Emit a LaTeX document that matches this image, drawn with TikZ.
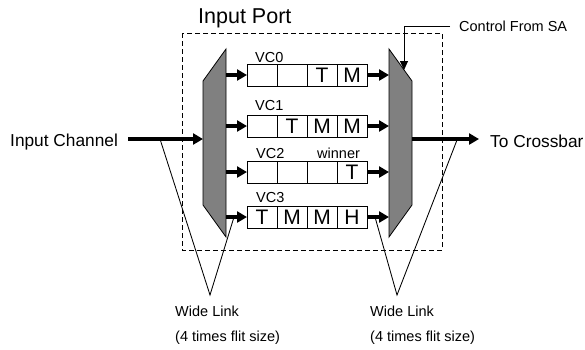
\documentclass[tikz,border=0pt]{standalone}
\usepackage{fontspec}
\setmainfont{Liberation Sans}
\usetikzlibrary{arrows.meta,positioning}

\tikzset{
  cell/.style={draw, line width=0.8pt, minimum width=30pt, minimum height=22pt,
    inner sep=0pt, outer sep=0pt, font=\fontsize{21}{21}\selectfont},
  lbl/.style={inner sep=0pt, anchor=base west, font=\fontsize{14.5}{14.5}\selectfont},
  biglbl/.style={inner sep=0pt, anchor=base west, font=\fontsize{17.3}{17.3}\selectfont},
  flit/.style={line width=3.3pt, -{Triangle[length=10pt,width=11pt]}},
  switchbox/.style={draw, line width=0.8pt, fill=black!50},
  thinline/.style={line width=0.85pt},
}

\begin{document}
\begin{tikzpicture}[x=1pt, y=-1pt]
\useasboundingbox (0,0) rectangle (585,349);

% input port boundary
\draw[thinline, dash pattern=on 5pt off 3pt] (182,33) rectangle (442,250);
\node[inner sep=0pt, anchor=base west, font=\fontsize{21.5}{21.5}\selectfont] (port) at (198,23) {Input Port};

% demux and mux
\coordinate (dml) at (203,0);
\coordinate (dmr) at (226,0);
\coordinate (mxl) at (389,0);
\coordinate (mxr) at (412,0);
\draw[switchbox] (203,81) -- (226,49) -- (226,237) -- (203,205) -- cycle;
\draw[switchbox] (389,49) -- (412,81) -- (412,205) -- (389,237) -- cycle;

% virtual channel buffers
\node[cell] (a1) at (262,75) {};
\node[cell, right=0pt of a1] (a2) {};
\node[cell, right=0pt of a2] (a3) {T};
\node[cell, right=0pt of a3] (a4) {M};
\node[lbl] (vc0) at (255,62) {VC0};

\node[cell] (b1) at (262,126) {};
\node[cell, right=0pt of b1] (b2) {T};
\node[cell, right=0pt of b2] (b3) {M};
\node[cell, right=0pt of b3] (b4) {M};
\node[lbl] (vc1) at (255,110) {VC1};

\node[cell] (c1) at (262,172) {};
\node[cell, right=0pt of c1] (c2) {};
\node[cell, right=0pt of c2] (c3) {};
\node[cell, right=0pt of c3] (c4) {T};
\node[lbl] (vc2) at (256,158) {VC2};
\node[lbl] (win) at (317,158) {winner};

\node[cell] (d1) at (262,217) {T};
\node[cell, right=0pt of d1] (d2) {M};
\node[cell, right=0pt of d2] (d3) {M};
\node[cell, right=0pt of d3] (d4) {H};
\node[lbl] (vc3) at (256,202) {VC3};

% flit paths
\foreach \r in {a,b,c,d}{
  \draw[flit] (\r1.west -| dmr) -- (\r1.west);
  \draw[flit] (\r4.east) -- (\r4.east -| mxl);
}

% channels
\node[biglbl] (inch) at (10,146.5) {Input Channel};
\node[biglbl] (xbar) at (490,147) {To Crossbar};
\coordinate (inch0) at (128,139);
\coordinate (xbar0) at (479,139);
\draw[flit] (inch0) -- (inch0 -| dml);
\draw[flit] (inch0 -| mxr) -- (xbar0);

% switch allocator control
\node[lbl] (ctrl) at (459,31.5) {Control From SA};
\coordinate (sa) at (404,70);
\draw[thinline, -{Triangle[length=9pt,width=8pt]}] (450,26) -| (sa);

% wide links
\coordinate (wa) at (210,295);
\coordinate (wb) at (397,295);
\draw[thinline] (160,139) -- (wa) -- (234,217);
\draw[thinline] (375,217) -- (wb) -- (457,140);
\node[lbl] (wl1) at (175,316) {Wide Link};
\node[lbl] (ws1) at (175,341.5) {(4 times flit size)};
\node[lbl] (wl2) at (370,316) {Wide Link};
\node[lbl] (ws2) at (370,341.5) {(4 times flit size)};
\end{tikzpicture}
\end{document}
